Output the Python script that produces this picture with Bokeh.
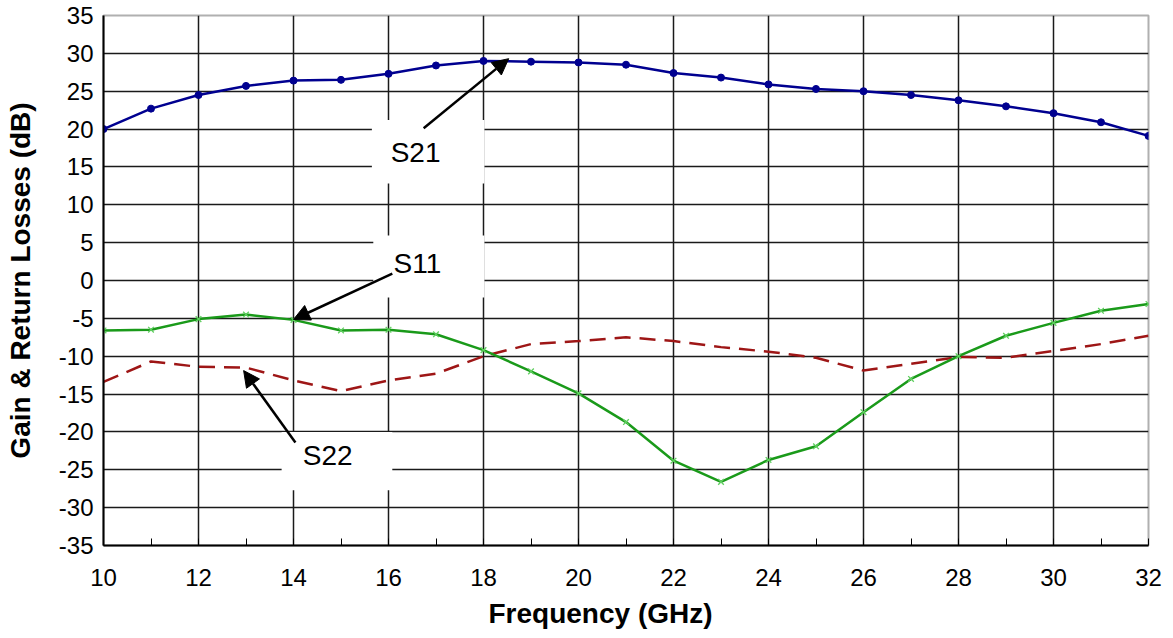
from bokeh.plotting import figure
from bokeh.models import SingleIntervalTicker, Arrow, NormalHead, Range1d, PrintfTickFormatter, Title
from bokeh.core.properties import value
from bokeh.embed import file_html
from bokeh.resources import INLINE

freq = list(range(10, 33))
s21 = [20.0, 22.7, 24.5, 25.7, 26.4, 26.5, 27.3, 28.4, 29.0, 28.9, 28.8, 28.5,
       27.4, 26.8, 25.9, 25.3, 25.0, 24.5, 23.8, 23.0, 22.1, 20.9, 19.1]
s11 = [-6.6, -6.5, -5.1, -4.5, -5.2, -6.6, -6.5, -7.1, -9.2, -12.0, -14.9, -18.7,
       -23.8, -26.6, -23.7, -21.9, -17.4, -13.0, -10.0, -7.3, -5.6, -4.0, -3.1]
s22 = [-13.4, -10.7, -11.4, -11.5, -13.2, -14.6, -13.2, -12.3, -10.0, -8.4, -8.0, -7.5,
       -8.0, -8.8, -9.4, -10.2, -11.9, -11.0, -10.1, -10.2, -9.3, -8.4, -7.3]

x_ticks = list(range(10, 33, 2))
y_ticks = list(range(-35, 36, 5))

x_title = "Frequency (GHz)"
y_title = "Gain & Return Losses (dB)"

# annotation labels: name, box (x0, x1, y0, y1), text position, arrow start, arrow tip
ann_names = ["S21", "S11", "S22"]
ann_box_left = [15.65, 15.68, 13.75]
ann_box_right = [18.02, 18.02, 16.08]
ann_box_top = [21.2, 5.95, -20.0]
ann_box_bottom = [12.8, -2.25, -27.7]
ann_text_x = [16.57, 16.61, 14.72]
ann_text_y = [16.9, 2.2, -23.1]
ann_arrow_x0 = [16.74, 16.08, 14.04]
ann_arrow_y0 = [20.1, 0.9, -21.4]
ann_arrow_x1 = [18.53, 14.0, 12.95]
ann_arrow_y1 = [29.3, -5.15, -11.9]

FONT = "Liberation Sans"

p = figure(width=1173, height=638, output_backend="svg", toolbar_location=None,
           x_range=Range1d(10, 32), y_range=Range1d(-35, 35),
           min_border_left=103, min_border_right=25, min_border_top=15, min_border_bottom=93)
p.background_fill_color = "white"
p.border_fill_color = "white"
p.outline_line_color = "#b0b0b0"
p.outline_line_width = 2

# axes
p.xaxis.ticker = SingleIntervalTicker(interval=2, num_minor_ticks=2)
p.yaxis.ticker = SingleIntervalTicker(interval=5, num_minor_ticks=0)
for ax in (p.xaxis, p.yaxis):
    ax.formatter = PrintfTickFormatter(format="%d")
    ax.axis_line_color = "black"
    ax.axis_line_width = 2
    ax.major_tick_out = 0
    ax.major_tick_in = 0
    ax.major_label_text_font = FONT
    ax.major_label_text_font_size = "24px"
    ax.major_label_text_color = "black"
    ax.axis_label_text_font = FONT
    ax.axis_label_text_font_style = "bold"
    ax.axis_label_text_font_size = "28px"
    ax.axis_label_text_color = "black"
p.xaxis.minor_tick_in = 7
p.xaxis.minor_tick_out = 0
p.xaxis.minor_tick_line_color = "black"
p.yaxis.minor_tick_line_color = None
p.xaxis.major_label_standoff = 23
p.yaxis.major_label_standoff = 10
p.yaxis.axis_label_standoff = 20
p.yaxis.axis_label = y_title

# x-axis title below the axis, slightly left of centre as in the reference
p.add_layout(Title(text=x_title, align="left", offset=385, standoff=14,
                   text_font=FONT, text_font_style="bold", text_font_size="28px",
                   text_color="black"), "below")

# grid
p.xgrid.ticker = SingleIntervalTicker(interval=2)
p.ygrid.ticker = SingleIntervalTicker(interval=5)
for g in (p.xgrid, p.ygrid):
    g.grid_line_color = "#1a1a1a"
    g.grid_line_width = 1.5

# annotation boxes (cover grid)
p.quad(left=ann_box_left, right=ann_box_right, top=ann_box_top, bottom=ann_box_bottom,
       fill_color="white", line_color=None)

# series
p.line(freq, s22, line_color="#9e1616", line_width=2.5, line_dash="16 9")
p.line(freq, s11, line_color="#1a9a1a", line_width=2.5)
p.scatter(freq, s11, marker="x", size=8, line_color="#5fcf5f", line_width=1.3)
p.line(freq, s21, line_color="#000090", line_width=2.5)
p.scatter(freq, s21, marker="circle", size=7, fill_color="#000090", line_color="#000090")

# arrows
for i in range(len(ann_names)):
    p.add_layout(Arrow(end=NormalHead(size=16, fill_color="black", line_color="black"),
                       x_start=ann_arrow_x0[i], y_start=ann_arrow_y0[i],
                       x_end=ann_arrow_x1[i], y_end=ann_arrow_y1[i],
                       line_color="black", line_width=2.5))

p.text(x=ann_text_x, y=ann_text_y, text=ann_names, text_font=value(FONT),
       text_font_size="28px", text_align="center", text_baseline="middle", text_color="black")

open("out.html", "w").write(file_html(p, INLINE))
